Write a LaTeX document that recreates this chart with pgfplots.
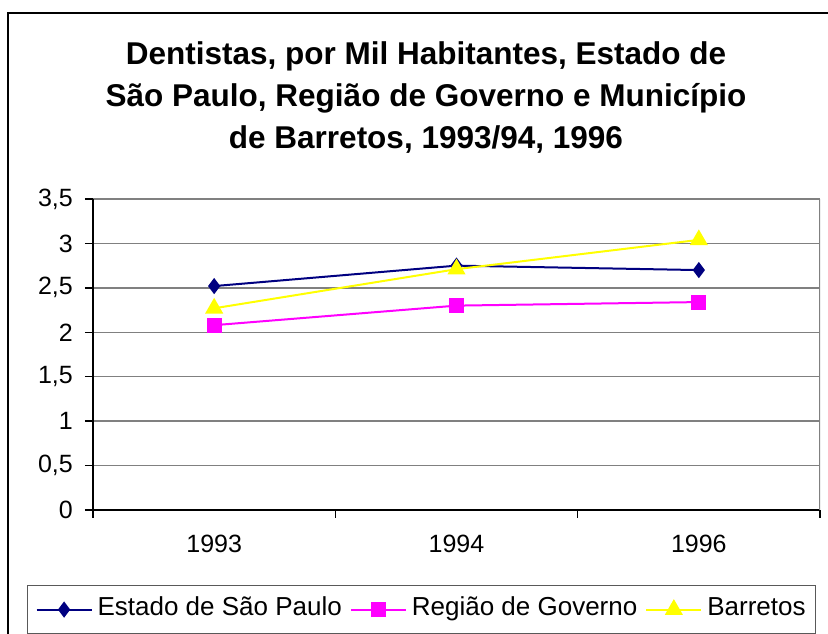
\documentclass[border=0pt]{standalone}
\usepackage{fontspec}
\setmainfont{Liberation Sans}
\usepackage{pgfplots}
\pgfplotsset{compat=1.18}
\definecolor{navyc}{HTML}{000080}
\definecolor{magc}{HTML}{FF00FF}
\definecolor{yelc}{HTML}{FFFF00}
\definecolor{gridc}{HTML}{808080}
\begin{document}
\begin{tikzpicture}[x=1pt,y=1pt]
\useasboundingbox (0,0) rectangle (828,634);
\begin{axis}[
  at={(93pt,124pt)}, anchor=south west,
  scale only axis, width=727pt, height=311pt,
  xmin=-0.5, xmax=2.5, ymin=0, ymax=3.5,
  axis x line*=bottom, axis y line*=left,
  axis line style={black, line width=1.3pt},
  tick align=outside,
  major tick length=8pt,
  tick style={black, line width=1.3pt},
  ytick={0,0.5,...,3.5},
  xtick={-0.5,0.5,1.5,2.5},
  xticklabels={},
  extra x ticks={0,1,2},
  extra x tick labels={1993,1994,1996},
  extra x tick style={major tick length=0pt, grid=none},
  ymajorgrids,
  grid style={gridc, line width=1.3pt},
  /pgf/number format/use comma,
  /pgf/number format/assume math mode=true,
  font=\fontsize{25}{30}\selectfont,
  yticklabel style={inner sep=0pt, xshift=-12pt},
  xticklabel style={inner sep=0pt, yshift=-25pt},
  legend style={at={(-0.0908,-0.2412)}, anchor=north west,
    draw=black!65, line width=1.2pt, inner xsep=8pt, inner ysep=9pt,
    font=\fontsize{26}{30}\selectfont,
    nodes={inner sep=2pt, text height=19pt, text depth=7pt},
    /tikz/every odd column/.append style={column sep=3pt},
    /tikz/every even column/.append style={column sep=6pt}},
  legend columns=3,
  legend cell align=left,
  legend image code/.code={\draw[mark repeat=2,mark phase=2] plot coordinates {(0pt,0pt) (27.5pt,0pt) (55pt,0pt)};},
]
\addplot[navyc, line width=2pt, mark=diamond*, mark size=6.5pt, mark options={fill=navyc, draw=navyc}]
  coordinates {(0,2.52) (1,2.75) (2,2.70)};
\addlegendentry{Estado de São Paulo}
\addplot[magc, line width=2pt, mark=square*, mark size=6.5pt, mark options={fill=magc, draw=magc}]
  coordinates {(0,2.08) (1,2.30) (2,2.34)};
\addlegendentry{Região de Governo}
\addplot[yelc, line width=2pt, mark=triangle*, mark size=8.5pt, mark options={fill=yelc, draw=yelc}]
  coordinates {(0,2.27) (1,2.71) (2,3.04)};
\addlegendentry{Barretos}
\draw[gridc, line width=1.3pt] (rel axis cs:1,0) -- (rel axis cs:1,1);
\end{axis}
\begin{scope}[font=\fontsize{31.5}{37.5}\selectfont\bfseries]
\node[anchor=base, inner sep=0pt] at (426,569) {Dentistas, por Mil Habitantes, Estado de};
\node[anchor=base, inner sep=0pt] at (426,527) {São Paulo, Região de Governo e Município};
\node[anchor=base, inner sep=0pt] at (426,485) {de Barretos, 1993/94, 1996};
\end{scope}
\draw[black, line width=1.5pt] (8,0) -- (8,621) -- (830,621);
\end{tikzpicture}
\end{document}
